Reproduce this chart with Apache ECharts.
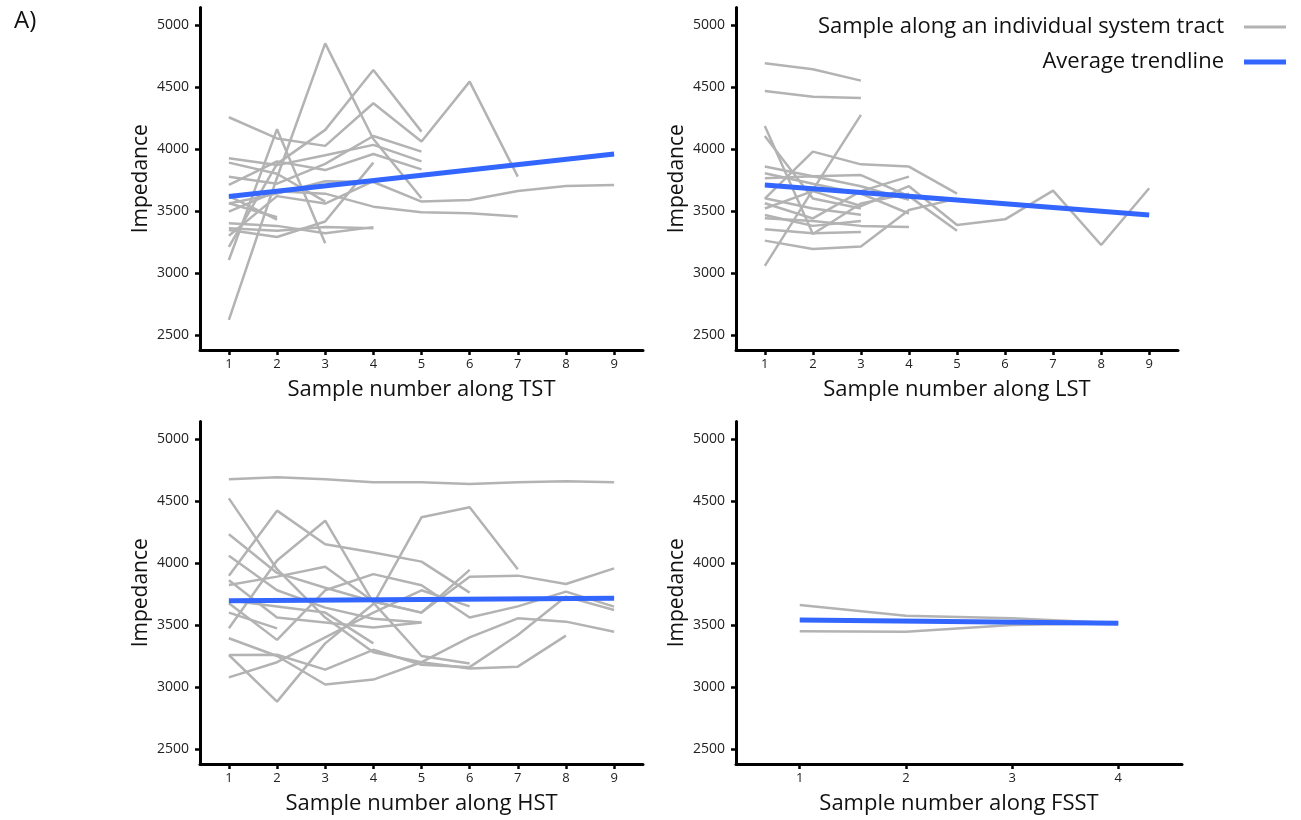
<!DOCTYPE html>
<html>
<head>
<meta charset="utf-8">
<script src="https://cdn.jsdelivr.net/npm/echarts@6/dist/echarts.min.js"></script>
<style>
html,body{margin:0;padding:0;background:#fff;}
#chart{width:1301px;height:820px;}
</style>
</head>
<body>
<div id="chart"></div>
<script>
// ---------- data ----------
const yTicks = [2500, 3000, 3500, 4000, 4500, 5000];
const xTicks9 = [1, 2, 3, 4, 5, 6, 7, 8, 9];
const xTicks4 = [1, 2, 3, 4];

const tstLines = [
  [4256, 4085, 4025, 4369, 4060, 4543, 3777],
  [3210, 3880, 4154, 4637, 4140],
  [2622, 3770, 4852, 4080, 3603],
  [3105, 4160, 3240],
  [3560, 3640, 3740, 3734, 3576, 3589, 3662, 3702, 3710],
  [3777, 3720, 3880, 4105, 3979],
  [3925, 3870, 3950, 4033, 3900],
  [3710, 3900, 3830, 3960, 3836],
  [3495, 3660, 3640, 3535, 3490, 3482, 3455],
  [3347, 3290, 3415, 3890],
  [3361, 3340, 3370, 3360],
  [3401, 3380, 3320, 3370],
  [3890, 3800, 3576],
  [3562, 3450],
  [3620, 3430],
  [3300, 3620, 3560, 3740]
];
const tstTrend = [3616, 3960];

const lstLines = [
  [4691, 4643, 4551],
  [4468, 4422, 4412],
  [3057, 3670, 4275],
  [4186, 3315, 3560, 3640],
  [4105, 3600, 3520],
  [3600, 3979, 3876, 3858, 3640],
  [3520, 3660, 3540, 3700, 3387, 3433, 3664, 3226, 3683],
  [3858, 3780, 3790, 3620, 3340],
  [3804, 3720, 3640, 3480],
  [3764, 3780, 3700, 3590],
  [3602, 3520, 3470],
  [3562, 3440, 3660, 3777],
  [3468, 3380, 3420],
  [3441, 3420, 3380, 3370],
  [3353, 3320, 3330],
  [3261, 3194, 3213, 3508, 3600]
];
const lstTrend = [3710, 3468];

const hstLines = [
  [4675, 4691, 4675, 4651, 4651, 4637, 4651, 4659, 4651],
  [3258, 2882, 3352, 3670, 4368, 4449, 3949],
  [4521, 3950, 3560, 3280, 3200, 3150, 3164, 3414],
  [4231, 3920, 3800, 3690, 3600, 3890, 3898, 3831, 3957],
  [3898, 4422, 4151, 4084, 4011, 3761],
  [3473, 4020, 4341, 3680, 3250, 3190],
  [4059, 3780, 3640, 3550, 3520],
  [3823, 3890, 3970, 3690, 3600, 3944],
  [3675, 3380, 3780, 3910, 3820, 3560, 3650, 3769, 3648],
  [3078, 3200, 3400, 3600, 3780, 3650],
  [3393, 3250, 3020, 3060, 3200, 3400, 3554, 3527, 3446],
  [3258, 3260, 3140, 3300, 3180, 3160, 3420, 3729, 3621],
  [3700, 3650, 3600, 3352],
  [3600, 3473],
  [3860, 3560, 3520, 3480, 3520]
];
const hstTrend = [3696, 3715];

const fsstLines = [
  [3661, 3575, 3554, 3514],
  [3449, 3446, 3500, 3514]
];
const fsstTrend = [3540, 3514];

const xNames = ['Sample number along TST', 'Sample number along LST', 'Sample number along HST', 'Sample number along FSST'];
const yName = 'Impedance';
const legendNames = ['Sample along an individual system tract', 'Average trendline'];

// ---------- layout ----------
const FONT = '"Open Sans", "DejaVu Sans", sans-serif';
const GRAY = '#b3b3b3';
const BLUE = '#3366ff';
const panels = [
  {lines: tstLines, trend: tstTrend, ticks: xTicks9, grid: {left: 200, top: 7.6, width: 443, height: 342.3}},
  {lines: lstLines, trend: lstTrend, ticks: xTicks9, grid: {left: 736, top: 7.6, width: 442, height: 342.3}},
  {lines: hstLines, trend: hstTrend, ticks: xTicks9, grid: {left: 200, top: 421.6, width: 443, height: 342.3}},
  {lines: fsstLines, trend: fsstTrend, ticks: xTicks4, grid: {left: 736, top: 421.6, width: 446, height: 342.3}}
];

const grids = [], xAxes = [], yAxes = [], series = [];
panels.forEach((p, i) => {
  grids.push(Object.assign({containLabel: false}, p.grid));
  const n = p.ticks[p.ticks.length - 1];
  xAxes.push({
    gridIndex: i, type: 'value', min: 0.4, max: n + 0.6,
    name: xNames[i], nameLocation: 'middle', nameGap: 29,
    nameTextStyle: {fontFamily: FONT, fontSize: 22, color: '#111'},
    axisLine: {show: true, lineStyle: {color: '#000', width: 3}},
    axisTick: {show: true, length: 5, lineStyle: {color: '#000', width: 2.5}, customValues: p.ticks},
    axisLabel: {fontFamily: FONT, fontSize: 13, color: '#222', margin: 8, customValues: p.ticks,
                formatter: v => String(v)},
    splitLine: {show: false}
  });
  yAxes.push({
    gridIndex: i, type: 'value', min: 2380, max: 5140,
    name: yName, nameLocation: 'middle', nameGap: 48, nameRotate: 90,
    nameTextStyle: {fontFamily: FONT, fontSize: 21, color: '#111'},
    axisLine: {show: true, lineStyle: {color: '#000', width: 3}},
    axisTick: {show: true, length: 5, lineStyle: {color: '#000', width: 2.5}, customValues: yTicks},
    axisLabel: {fontFamily: FONT, fontSize: 14, color: '#222', margin: 11, customValues: yTicks,
                formatter: v => String(v)},
    splitLine: {show: false}
  });
  p.lines.forEach(arr => {
    series.push({
      type: 'line', name: legendNames[0], xAxisIndex: i, yAxisIndex: i,
      data: arr.map((v, k) => [k + 1, v]),
      showSymbol: false, symbol: 'none', silent: true, z: 2,
      lineStyle: {color: GRAY, width: 2.5}, itemStyle: {color: GRAY}
    });
  });
  series.push({
    type: 'line', name: legendNames[1], xAxisIndex: i, yAxisIndex: i,
    data: [[p.ticks[0], p.trend[0]], [n, p.trend[1]]],
    showSymbol: false, symbol: 'none', silent: true, z: 5,
    lineStyle: {color: BLUE, width: 5}, itemStyle: {color: BLUE}
  });
});

const chart = echarts.init(document.getElementById('chart'), null, {renderer: 'canvas'});
chart.setOption({
  animation: false,
  backgroundColor: '#fff',
  title: {text: 'A)', left: 9, top: 4, textStyle: {fontFamily: FONT, fontSize: 24, fontWeight: 'normal', color: '#111'}},
  legend: [
    {data: [legendNames[0]], right: 10, top: 11, orient: 'vertical', align: 'right', icon: 'rect',
     itemWidth: 42, itemHeight: 3, selectedMode: false,
     textStyle: {fontFamily: FONT, fontSize: 22, color: '#111', padding: [0, 15, 0, 0]}},
    {data: [legendNames[1]], right: 10, top: 46, orient: 'vertical', align: 'right', icon: 'rect',
     itemWidth: 42, itemHeight: 5, selectedMode: false,
     textStyle: {fontFamily: FONT, fontSize: 22, color: '#111', padding: [0, 15, 0, 0]}}
  ],
  grid: grids, xAxis: xAxes, yAxis: yAxes, series: series
});
</script>
</body>
</html>
